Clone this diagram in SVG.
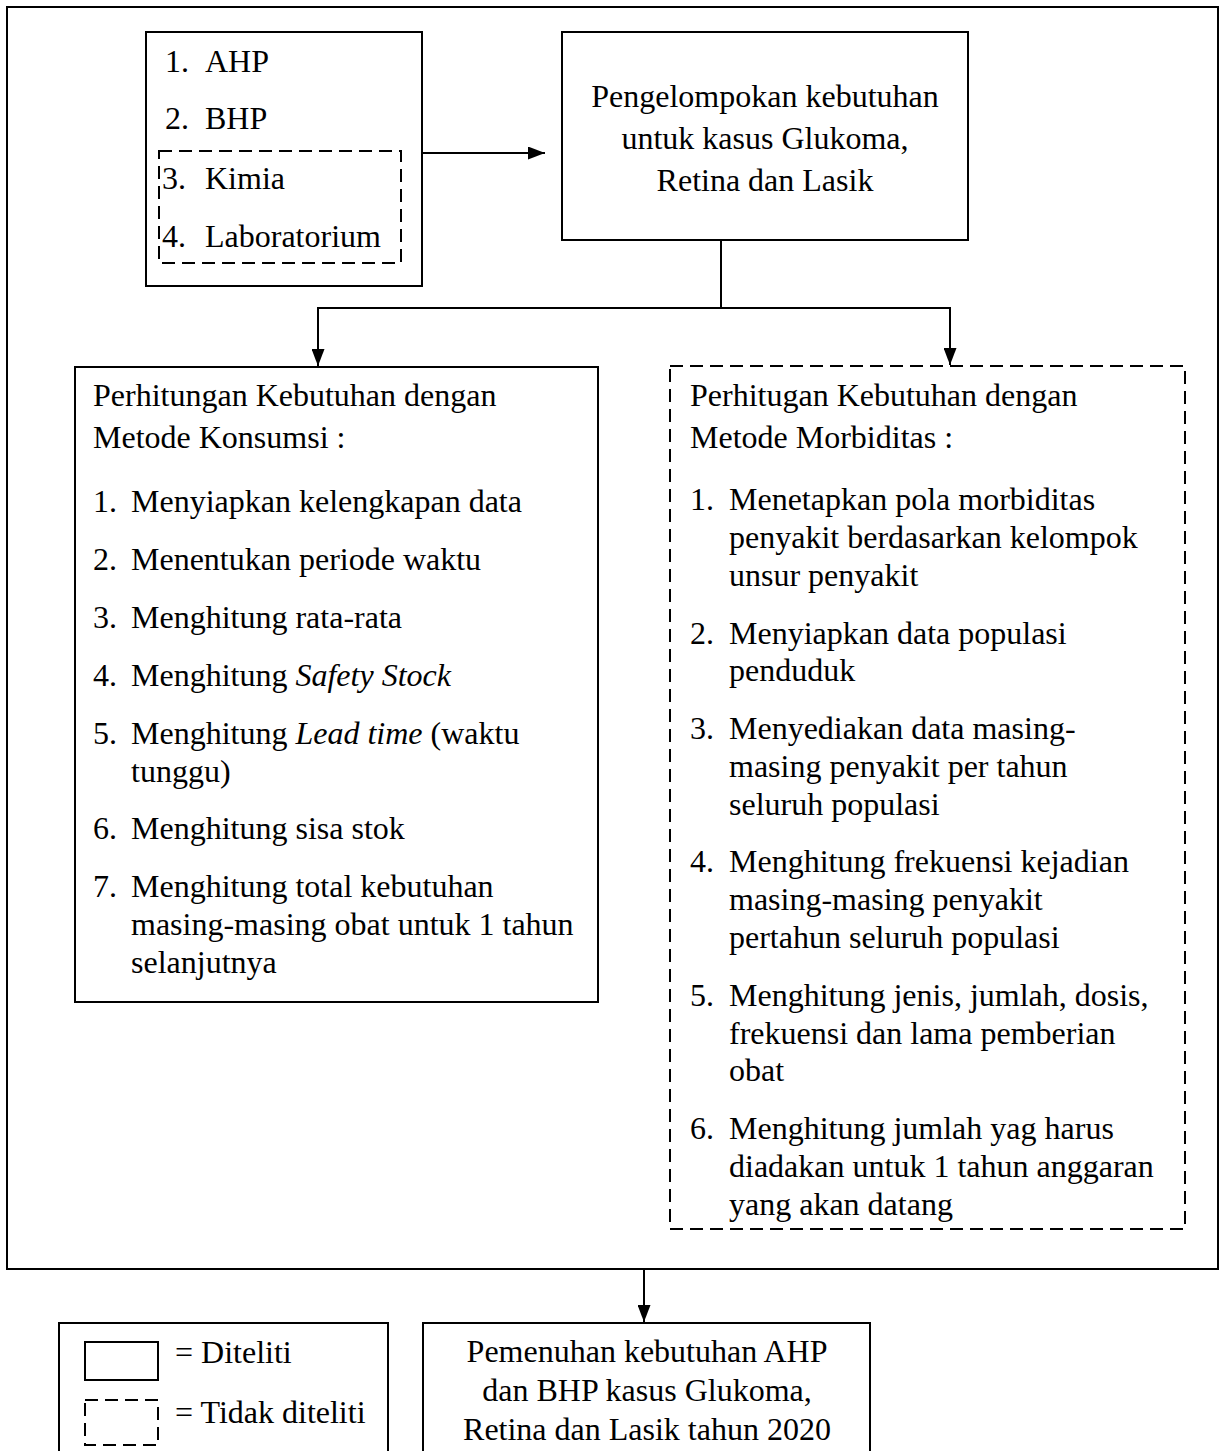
<svg xmlns="http://www.w3.org/2000/svg" width="1227" height="1451" viewBox="0 0 1227 1451">
<defs>
<marker id="arr" viewBox="0 0 17 13" refX="17" refY="6.5" markerWidth="17" markerHeight="13" markerUnits="userSpaceOnUse" orient="auto">
<path d="M0,0 L17,6.5 L0,13 z" fill="#000"/>
</marker>
<style>
text{font-family:"Liberation Serif","Times New Roman",serif;font-size:32px;fill:#000}
.c{text-anchor:middle}
.s{fill:none;stroke:#000;stroke-width:2}
.d{fill:none;stroke:#000;stroke-width:2;stroke-dasharray:13 7}
.l{fill:none;stroke:#000;stroke-width:2}
</style>
</defs>
<rect width="1227" height="1451" fill="#fff"/>
<g id="frame"><rect class="s" x="7" y="7" width="1211" height="1262"/></g>
<g id="categories">
<rect class="s" x="146" y="32" width="276" height="254"/>
<rect class="d" x="159" y="151" width="242" height="112"/>
<text x="165" y="72">1.</text><text x="205" y="72">AHP</text>
<text x="165" y="129">2.</text><text x="205" y="129">BHP</text>
<text x="162" y="189">3.</text><text x="205" y="189">Kimia</text>
<text x="162" y="247">4.</text><text x="205" y="247">Laboratorium</text>
</g>
<g id="grouping">
<rect class="s" x="562" y="32" width="406" height="208"/>
<text class="c" x="765" y="107">Pengelompokan kebutuhan</text>
<text class="c" x="765" y="149">untuk kasus Glukoma,</text>
<text class="c" x="765" y="191">Retina dan Lasik</text>
</g>
<g id="konsumsi">
<rect class="s" x="75" y="367" width="523" height="635"/>
<text x="93" y="406">Perhitungan Kebutuhan dengan</text>
<text x="93" y="448">Metode Konsumsi :</text>
<text x="93" y="512">1.</text><text x="131" y="512">Menyiapkan kelengkapan data</text>
<text x="93" y="570">2.</text><text x="131" y="570">Menentukan periode waktu</text>
<text x="93" y="628">3.</text><text x="131" y="628">Menghitung rata-rata</text>
<text x="93" y="686">4.</text><text x="131" y="686">Menghitung <tspan font-style="italic">Safety Stock</tspan></text>
<text x="93" y="744">5.</text><text x="131" y="744">Menghitung <tspan font-style="italic">Lead time</tspan> (waktu</text>
<text x="131" y="782">tunggu)</text>
<text x="93" y="839">6.</text><text x="131" y="839">Menghitung sisa stok</text>
<text x="93" y="897">7.</text><text x="131" y="897">Menghitung total kebutuhan</text>
<text x="131" y="935">masing-masing obat untuk 1 tahun</text>
<text x="131" y="973">selanjutnya</text>
</g>
<g id="morbiditas">
<rect class="d" x="670" y="366" width="515" height="863"/>
<text x="690" y="406">Perhitugan Kebutuhan dengan</text>
<text x="690" y="448">Metode Morbiditas :</text>
<text x="690" y="510">1.</text><text x="729" y="510">Menetapkan pola morbiditas</text>
<text x="729" y="548">penyakit berdasarkan kelompok</text>
<text x="729" y="586">unsur penyakit</text>
<text x="690" y="644">2.</text><text x="729" y="644">Menyiapkan data populasi</text>
<text x="729" y="681">penduduk</text>
<text x="690" y="739">3.</text><text x="729" y="739">Menyediakan data masing-</text>
<text x="729" y="777">masing penyakit per tahun</text>
<text x="729" y="815">seluruh populasi</text>
<text x="690" y="872">4.</text><text x="729" y="872">Menghitung frekuensi kejadian</text>
<text x="729" y="910">masing-masing penyakit</text>
<text x="729" y="948">pertahun seluruh populasi</text>
<text x="690" y="1006">5.</text><text x="729" y="1006">Menghitung jenis, jumlah, dosis,</text>
<text x="729" y="1044">frekuensi dan lama pemberian</text>
<text x="729" y="1081">obat</text>
<text x="690" y="1139">6.</text><text x="729" y="1139">Menghitung jumlah yag harus</text>
<text x="729" y="1177">diadakan untuk 1 tahun anggaran</text>
<text x="729" y="1215">yang akan datang</text>
</g>
<g id="legend">
<rect class="s" x="59" y="1323" width="329" height="140"/>
<rect class="s" x="85" y="1342" width="73" height="38"/>
<rect class="d" x="85" y="1400" width="73" height="45"/>
<text x="175" y="1363">= Diteliti</text>
<text x="175" y="1423">= Tidak diteliti</text>
</g>
<g id="result">
<rect class="s" x="423" y="1323" width="447" height="140"/>
<text class="c" x="647" y="1362">Pemenuhan kebutuhan AHP</text>
<text class="c" x="647" y="1401">dan BHP kasus Glukoma,</text>
<text class="c" x="647" y="1440">Retina dan Lasik tahun 2020</text>
</g>
<g id="connectors">
<line class="l" x1="422" y1="153" x2="545" y2="153" marker-end="url(#arr)"/>
<polyline class="l" points="721,240 721,308 318,308 318,366" marker-end="url(#arr)"/>
<polyline class="l" points="721,308 950,308 950,365" marker-end="url(#arr)"/>
<line class="l" x1="644" y1="1269" x2="644" y2="1322" marker-end="url(#arr)"/>
</g>
</svg>
